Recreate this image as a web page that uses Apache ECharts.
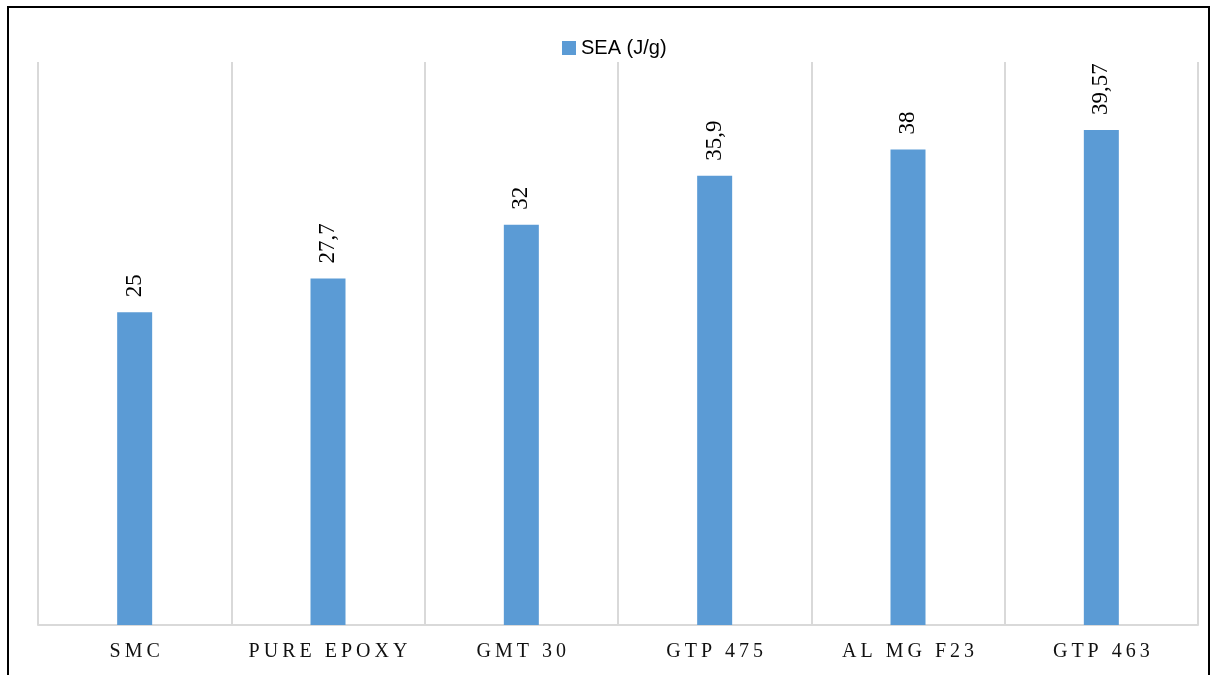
<!DOCTYPE html>
<html>
<head>
<meta charset="utf-8">
<script src="https://cdn.jsdelivr.net/npm/echarts@6/dist/echarts.min.js"></script>
<style>
  html, body { margin: 0; padding: 0; background: #fff; }
  #chart { position: absolute; left: 0; top: 0; width: 1216px; height: 675px; }
  #frame { position: absolute; left: 7px; top: 6px; width: 1203px; height: 700px;
           border: 2px solid #000; box-sizing: border-box; pointer-events: none; }
</style>
</head>
<body>
<div id="chart"></div>
<div id="frame"></div>
<script>
// Specific energy absorption per material
const categories = ['SMC', 'PURE EPOXY', 'GMT 30', 'GTP 475', 'AL MG F23', 'GTP 463'];
const seaValues = [25, 27.7, 32, 35.9, 38, 39.57];
const seriesName = 'SEA (J/g)';

// spread letters apart with thin spaces, wider gap between words
function spaced(s) {
  const thin = '\u2009';
  return s.split(' ').map(w => w.split('').join(thin)).join(thin + ' ' + thin);
}

const chart = echarts.init(document.getElementById('chart'));
chart.setOption({
  animation: false,
  backgroundColor: '#ffffff',
  legend: {
    data: [seriesName],
    top: 33,
    left: 557,
    itemWidth: 14,
    itemHeight: 14,
    itemGap: 6,
    icon: 'rect',
    textStyle: { fontFamily: 'Liberation Sans', fontSize: 20, color: '#000' }
  },
  grid: { left: 38, right: 18, top: 62, bottom: 50 },
  xAxis: {
    type: 'category',
    data: categories,
    boundaryGap: true,
    axisLine: { lineStyle: { color: '#d9d9d9', width: 2 } },
    axisTick: { show: false },
    splitLine: { show: true, interval: 0, lineStyle: { color: '#d9d9d9', width: 2 } },
    axisLabel: {
      interval: 0,
      margin: 17,
      fontFamily: 'Liberation Serif',
      fontSize: 20,
      color: '#111',
      formatter: v => spaced(v)
    }
  },
  yAxis: {
    type: 'value',
    min: 0,
    max: 45,
    show: false,
    splitLine: { show: false }
  },
  series: [{
    name: seriesName,
    type: 'bar',
    data: seaValues,
    barWidth: 35,
    itemStyle: { color: '#5b9bd5' },
    label: {
      show: true,
      position: 'top',
      rotate: 90,
      align: 'left',
      verticalAlign: 'middle',
      distance: 15,
      fontFamily: 'Liberation Serif',
      fontSize: 23,
      color: '#000',
      formatter: p => String(p.value).replace('.', ',')
    }
  }]
});
</script>
</body>
</html>
